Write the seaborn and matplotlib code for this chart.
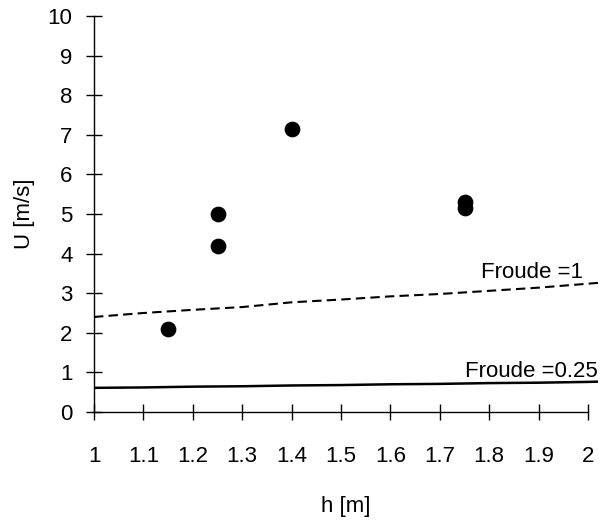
import matplotlib
matplotlib.use("Agg")
import matplotlib.pyplot as plt
import seaborn as sns
import pandas as pd

# Data
h_obs = [1.15, 1.25, 1.25, 1.40, 1.75, 1.75]
u_obs = [2.10, 4.20, 5.00, 7.15, 5.15, 5.30]

h_line = [1.0, 1.1, 1.2, 1.3, 1.4, 1.5, 1.6, 1.7, 1.8, 1.9, 2.0, 2.03]
u_froude1 = [2.40, 2.50, 2.58, 2.65, 2.77, 2.84, 2.92, 2.98, 3.06, 3.14, 3.24, 3.27]
u_froude025 = [0.61, 0.62, 0.64, 0.65, 0.67, 0.68, 0.70, 0.71, 0.73, 0.74, 0.76, 0.77]

x_ticks = [1, 1.1, 1.2, 1.3, 1.4, 1.5, 1.6, 1.7, 1.8, 1.9, 2]
x_ticklabels = ["1", "1.1", "1.2", "1.3", "1.4", "1.5", "1.6", "1.7", "1.8", "1.9", "2"]
y_ticks = list(range(0, 11))

sns.set_theme(style="white")
plt.rcParams['font.family'] = ['Liberation Sans', 'DejaVu Sans']
plt.rcParams['text.color'] = 'black'
plt.rcParams['axes.labelcolor'] = 'black'

fig = plt.figure(figsize=(6.01, 5.21), dpi=100)
ax = fig.add_axes([94/601, 109/521, (588-94)/601*1.02, 396/521])

obs = pd.DataFrame({"h": h_obs, "U": u_obs})
lines = pd.DataFrame({"h": h_line, "F1": u_froude1, "F025": u_froude025})

sns.lineplot(data=lines, x="h", y="F1", ax=ax, color="black", lw=1.5,
             dashes=False)
ax.lines[-1].set_dashes((4.5, 2.5))
sns.lineplot(data=lines, x="h", y="F025", ax=ax, color="black", lw=1.8)
sns.scatterplot(data=obs, x="h", y="U", ax=ax, color="black", s=110,
                edgecolor="black", zorder=5)

ax.set_xlim(1, 2.02)
ax.set_ylim(0, 10)
ax.set_xticks(x_ticks)
ax.set_xticklabels(x_ticklabels)
ax.set_yticks(y_ticks)

for s in ["top", "right"]:
    ax.spines[s].set_visible(False)
for s in ["left", "bottom"]:
    ax.spines[s].set_color("black")
    ax.spines[s].set_linewidth(1.0)
ax.spines["bottom"].set_bounds(1, 2)

fs = 16
ax.tick_params(axis="both", direction="inout", length=11, width=1.0,
               colors="black", labelsize=fs, bottom=True, left=True)
ax.tick_params(axis="x", pad=19)
ax.tick_params(axis="y", pad=10)

ax.set_xlabel("h [m]", fontsize=fs, labelpad=21, color="black")
ax.set_ylabel("U [m/s]", fontsize=fs, labelpad=9, color="black")

ax.text(1.99, 3.38, "Froude =1", ha="right", va="baseline", fontsize=fs,
        color="black")
ax.text(2.02, 0.88, "Froude =0.25", ha="right", va="baseline", fontsize=fs,
        color="black")

fig.savefig("out.png", dpi=100)
